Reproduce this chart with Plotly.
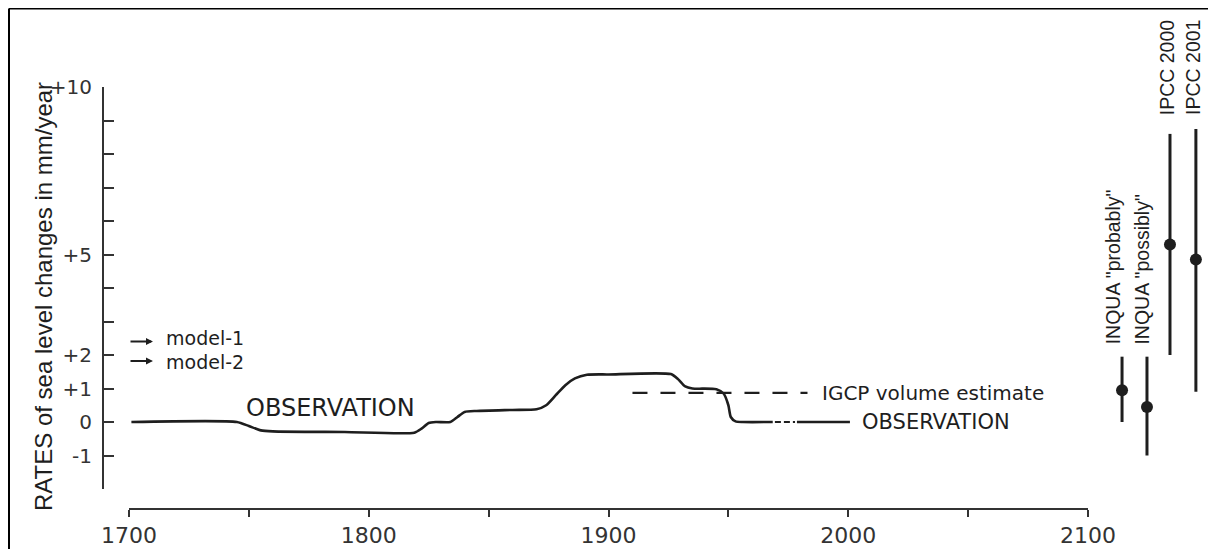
import plotly.graph_objects as go

# ---------------- data ----------------
obs_years = [1701, 1745, 1750, 1755, 1760, 1790, 1819, 1822, 1825, 1828, 1834, 1837, 1840, 1845,
             1860, 1870, 1874, 1878, 1882, 1886, 1891, 1900, 1926, 1929, 1932, 1935, 1945, 1948,
             1950, 1951, 1953, 1956, 1968.5]
obs_rates = [0.0, 0.0, -0.12, -0.25, -0.28, -0.30, -0.32, -0.20, -0.03, 0.0, 0.0, 0.15, 0.30, 0.33,
             0.36, 0.38, 0.50, 0.80, 1.10, 1.30, 1.41, 1.42, 1.43, 1.28, 1.06, 1.00, 0.98, 0.85,
             0.50, 0.15, 0.02, 0.0, 0.0]
obs_gap_years = [1969.4, 1977.8]
obs_gap_rates = [0.0, 0.0]
obs_tail_years = [1978.6, 2000.7]
obs_tail_rates = [0.0, 0.0]

igcp_years = [1910, 1983]
igcp_rates = [0.87, 0.87]

model_names = ["model-1", "model-2"]
model_rates = [2.40, 1.82]
model_label_rates = [2.50, 1.78]
model_from = 1700
model_to = 1710

est_names = ['INQUA "probably"', 'INQUA "possibly"', "IPCC 2000", "IPCC 2001"]
est_x = [2114.2, 2124.6, 2134.2, 2145.0]
est_low = [0.0, -1.0, 2.0, 0.9]
est_high = [1.95, 1.95, 8.6, 8.75]
est_mid = [0.95, 0.45, 5.3, 4.85]
est_label_x = [2110.5, 2122.5, 2133.0, 2143.5]
est_label_y = [2.25, 2.25, 9.1, 9.1]

x_tick_vals = [1700, 1750, 1800, 1850, 1900, 1950, 2000, 2050, 2100]
x_tick_text = ["1700", "", "1800", "", "1900", "", "2000", "", "2100"]
y_tick_vals = [-2, -1, 0, 1, 2, 3, 4, 5, 6, 7, 8, 9, 10]
y_tick_text = ["", "-1", "0", "+1", "+2", "", "", "+5", "", "", "", "", "+10"]

# ---------------- layout geometry ----------------
OFF = 8                      # page body margin
W, H = 1216 - OFF, 549 - OFF
INK = "#1e1e1e"
AX = "#333333"
PX_PER_YEAR = (1088 - 129) / 400.0
x_left = 1700 - (129 - 104) / PX_PER_YEAR
x_right = 1700 + (OFF + W - 129) / PX_PER_YEAR


def px_x(p):
    return (p - OFF) / W


def px_y(p):
    return 1 - (p - OFF) / H


GEO = "DejaVu Sans, Verdana, sans-serif"
NARROW = "Liberation Sans Narrow, Arial Narrow, Liberation Sans, Arial, sans-serif"

fig = go.Figure()

fig.add_trace(go.Scatter(x=obs_years, y=obs_rates, mode="lines",
                         line=dict(color=INK, width=2.6, shape="spline", smoothing=0.6),
                         hoverinfo="skip", showlegend=False))
fig.add_trace(go.Scatter(x=obs_gap_years, y=obs_gap_rates, mode="lines",
                         line=dict(color=INK, width=2.2, dash="6px,3px"),
                         hoverinfo="skip", showlegend=False))
fig.add_trace(go.Scatter(x=obs_tail_years, y=obs_tail_rates, mode="lines",
                         line=dict(color=INK, width=2.6),
                         hoverinfo="skip", showlegend=False))
fig.add_trace(go.Scatter(x=igcp_years, y=igcp_rates, mode="lines",
                         line=dict(color=INK, width=2.2, dash="15px,13px"),
                         hoverinfo="skip", showlegend=False))

for i in range(len(est_names)):
    fig.add_trace(go.Scatter(x=[est_x[i], est_x[i]], y=[est_low[i], est_high[i]], mode="lines",
                             line=dict(color=INK, width=3),
                             hoverinfo="skip", showlegend=False))
fig.add_trace(go.Scatter(x=est_x, y=est_mid, mode="markers",
                         marker=dict(color=INK, size=12),
                         hoverinfo="skip", showlegend=False))

# dummy trace so the visible time axis is drawn
fig.add_trace(go.Scatter(x=[1700, 2100], y=[None, None], xaxis="x2", yaxis="y", mode="lines",
                         hoverinfo="skip", showlegend=False))

annotations = []
for name, rate, lrate in zip(model_names, model_rates, model_label_rates):
    annotations.append(dict(x=model_to, y=rate, ax=model_from, ay=rate, xref="x", yref="y",
                            axref="x", ayref="y", text="", showarrow=True, arrowhead=2,
                            arrowsize=0.7, arrowwidth=2, arrowcolor=INK))
    annotations.append(dict(x=model_to + 4.5, y=lrate, xref="x", yref="y", text=name,
                            showarrow=False, xanchor="left", yanchor="middle",
                            font=dict(family=GEO, size=19, color=INK)))

annotations.append(dict(x=1784, y=0.42, xref="x", yref="y", text="OBSERVATION", showarrow=False,
                        xanchor="center", yanchor="middle", font=dict(family=GEO, size=24, color=INK)))
annotations.append(dict(x=2004.9, y=0.0, xref="x", yref="y", text="OBSERVATION", showarrow=False,
                        xanchor="left", yanchor="middle", font=dict(family=GEO, size=21, color=INK)))
annotations.append(dict(x=1988.2, y=0.87, xref="x", yref="y", text="IGCP volume estimate",
                        showarrow=False, xanchor="left", yanchor="middle",
                        font=dict(family=GEO, size=20, color=INK)))

for i, name in enumerate(est_names):
    annotations.append(dict(x=est_label_x[i], y=est_label_y[i], xref="x", yref="y", text=name,
                            showarrow=False, textangle=-90, xanchor="center", yanchor="bottom",
                            font=dict(family=NARROW, size=19.5, color=INK)))

annotations.append(dict(x=px_x(43), y=px_y(297), xref="paper", yref="paper",
                        text="RATES of sea level changes in mm/year", showarrow=False,
                        textangle=-90, xanchor="center", yanchor="middle",
                        font=dict(family=NARROW, size=24, color=INK)))

shapes = [
    dict(type="line", xref="paper", yref="paper", x0=1 / W, x1=1 / W, y0=0, y1=1 - 0.5 / H,
         line=dict(color="#000000", width=2)),
    dict(type="line", xref="paper", yref="paper", x0=1 / W, x1=1 - 3 / W, y0=1 - 0.5 / H,
         y1=1 - 0.5 / H, line=dict(color="#000000", width=2)),
]

fig.update_layout(
    width=W, height=H, autosize=False,
    margin=dict(l=0, r=0, t=0, b=0),
    paper_bgcolor="white", plot_bgcolor="rgba(0,0,0,0)",
    showlegend=False,
    xaxis=dict(domain=[px_x(104), 1], range=[x_left, x_right], visible=False,
               showgrid=False, zeroline=False),
    xaxis2=dict(domain=[px_x(129), px_x(1088)], range=[1700, 2100], anchor="free",
                position=px_y(509), showline=True, linecolor=AX, linewidth=2,
                ticks="outside", ticklen=7, tickwidth=2, tickcolor=AX,
                tickmode="array", tickvals=x_tick_vals, ticktext=x_tick_text,
                tickfont=dict(family=GEO, size=22, color="#333333"),
                showgrid=False, zeroline=False, automargin=False),
    yaxis=dict(domain=[px_y(489), px_y(87)], range=[-2, 10], anchor="x",
               showline=True, linecolor=AX, linewidth=2,
               ticks="inside", ticklen=10, tickwidth=2, tickcolor=AX,
               tickmode="array", tickvals=y_tick_vals, ticktext=y_tick_text,
               tickfont=dict(family=GEO, size=20, color="#333333"),
               ticklabelstandoff=6,
               showgrid=False, zeroline=False, automargin=False),
    annotations=annotations,
    shapes=shapes,
)

fig.write_html("out.html")
